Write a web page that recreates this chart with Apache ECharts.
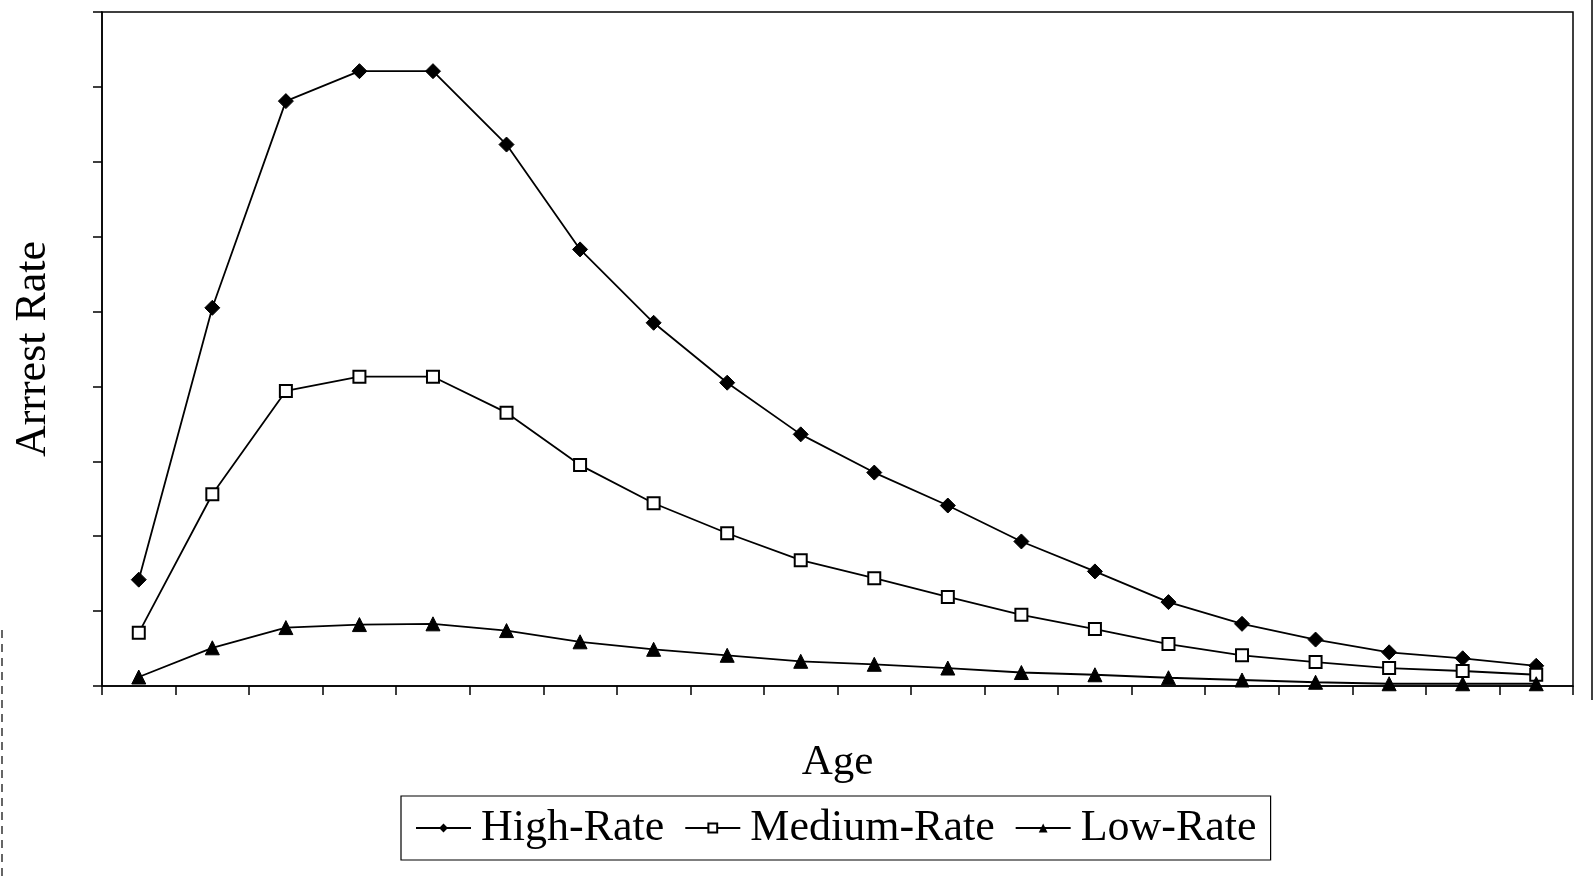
<!DOCTYPE html>
<html>
<head>
<meta charset="utf-8">
<script src="https://cdn.jsdelivr.net/npm/echarts@6/dist/echarts.min.js"></script>
<style>
html,body{margin:0;padding:0;background:#fff;}
#chart{width:1595px;height:877px;}
</style>
</head>
<body>
<div id="chart"></div>
<script>
var ages = ['1','2','3','4','5','6','7','8','9','10','11','12','13','14','15','16','17','18','19','20'];
var highRate = [1.42, 5.05, 7.81, 8.21, 8.21, 7.23, 5.83, 4.85, 4.05, 3.36, 2.85, 2.41, 1.93, 1.53, 1.12, 0.83, 0.62, 0.45, 0.37, 0.27];
var mediumRate = [0.71, 2.56, 3.94, 4.13, 4.13, 3.65, 2.95, 2.44, 2.04, 1.68, 1.44, 1.19, 0.95, 0.76, 0.56, 0.41, 0.32, 0.24, 0.20, 0.15];
var lowRate = [0.12, 0.51, 0.78, 0.82, 0.83, 0.74, 0.59, 0.49, 0.41, 0.33, 0.29, 0.24, 0.18, 0.15, 0.11, 0.08, 0.05, 0.03, 0.03, 0.03];

var FONT = "'Liberation Serif', 'Times New Roman', serif";
var chart = echarts.init(document.getElementById('chart'));
chart.setOption({
  backgroundColor: '#fff',
  animation: false,
  textStyle: { fontFamily: FONT, color: '#000' },
  grid: {
    left: 102, right: 22, top: 12, bottom: 191,
    show: true, borderColor: '#000', borderWidth: 1.5, backgroundColor: 'transparent'
  },
  legend: {
    left: 401, top: 796,
    padding: [10, 14, 10, 14],
    itemGap: 20,
    itemWidth: 55,
    itemHeight: 11,
    borderColor: '#000', borderWidth: 1.2,
    textStyle: { fontFamily: FONT, fontSize: 44, color: '#000', lineHeight: 43, padding: [0, 0, 0, 5] },
    data: ['High-Rate', 'Medium-Rate', 'Low-Rate']
  },
  xAxis: {
    type: 'category',
    data: ages,
    boundaryGap: true,
    name: 'Age',
    nameLocation: 'middle',
    nameGap: 55,
    nameTextStyle: { fontFamily: FONT, fontSize: 43, color: '#000' },
    axisLine: { lineStyle: { color: '#000', width: 1.5 } },
    axisTick: { show: true, inside: false, length: 9, interval: 0, lineStyle: { color: '#000', width: 1.5 } },
    axisLabel: { show: false },
    splitLine: { show: false }
  },
  yAxis: {
    type: 'value',
    min: 0, max: 9, interval: 1,
    name: 'Arrrest Rate',
    nameLocation: 'middle',
    nameRotate: 90,
    nameGap: 47,
    nameTextStyle: { fontFamily: FONT, fontSize: 44, color: '#000' },
    axisLine: { show: true, lineStyle: { color: '#000', width: 1.5 } },
    axisTick: { show: true, inside: false, length: 9, lineStyle: { color: '#000', width: 1.5 } },
    axisLabel: { show: false },
    splitLine: { show: false }
  },
  series: [
    {
      name: 'High-Rate', type: 'line', data: highRate,
      symbol: 'diamond', symbolSize: 15,
      lineStyle: { color: '#000', width: 1.8 },
      itemStyle: { color: '#000', borderColor: '#000' }
    },
    {
      name: 'Medium-Rate', type: 'line', data: mediumRate,
      symbol: 'rect', symbolSize: 12,
      lineStyle: { color: '#000', width: 1.8 },
      itemStyle: { color: '#fff', borderColor: '#000', borderWidth: 2 }
    },
    {
      name: 'Low-Rate', type: 'line', data: lowRate,
      symbol: 'triangle', symbolSize: 14,
      lineStyle: { color: '#000', width: 1.8 },
      itemStyle: { color: '#000', borderColor: '#000' }
    }
  ],
  graphic: [
    { type: 'line', shape: { x1: 1592, y1: 0, x2: 1592, y2: 700 }, style: { stroke: '#000', lineWidth: 1.5 }, silent: true },
    { type: 'line', shape: { x1: 2, y1: 630, x2: 2, y2: 877 }, style: { stroke: '#000', lineWidth: 1.2, lineDash: [8, 6] }, silent: true }
  ]
});
</script>
</body>
</html>
